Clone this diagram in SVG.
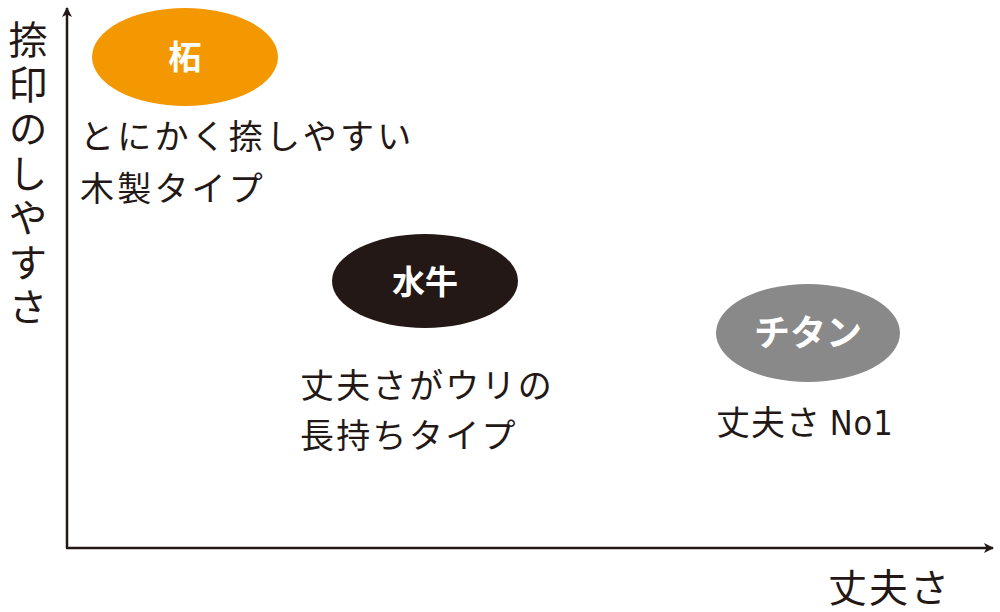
<svg xmlns="http://www.w3.org/2000/svg" width="1000" height="612" viewBox="0 0 1000 612">
<style>
.t{font-family:"Noto Sans CJK JP","Noto Sans",sans-serif;fill:#231815;}
.lbl{font-family:"Noto Sans CJK JP","Noto Sans",sans-serif;fill:#fff;font-weight:bold;text-anchor:middle;}
.ax{stroke:#231815;stroke-width:2.5;fill:none;}
</style>
<defs>
<marker id="arr" viewBox="0 0 10 10" refX="9" refY="5" markerWidth="10" markerHeight="10" markerUnits="userSpaceOnUse" orient="auto">
<path d="M0,0 L10,5 L0,10 L2.5,5 Z" fill="#231815"/>
</marker>
</defs>
<rect width="1000" height="612" fill="#fff"/>
<g id="connectors">
<path class="ax" d="M67,548 L67,8" marker-end="url(#arr)"/>
<path class="ax" d="M66,548 L993,548" marker-end="url(#arr)"/>
</g>
<g id="axis-labels">
<text class="t" x="28" y="20" font-size="39" style="writing-mode:vertical-rl;letter-spacing:5.5px">捺印のしやすさ</text>
<text class="t" x="828" y="602" font-size="39" letter-spacing="2">丈夫さ</text>
</g>
<g id="node-tsuge">
<ellipse cx="185" cy="57" rx="93" ry="49" fill="#F39800"/>
<text class="lbl" x="185" y="69" font-size="33">柘</text>
<text class="t" x="80" y="149" font-size="34" letter-spacing="3.2">とにかく捺しやすい</text>
<text class="t" x="80" y="201" font-size="34" letter-spacing="3.2">木製タイプ</text>
</g>
<g id="node-suigyu">
<ellipse cx="425" cy="281" rx="93" ry="47" fill="#231815"/>
<text class="lbl" x="425" y="294" font-size="33">水牛</text>
<text class="t" x="300" y="398" font-size="34" letter-spacing="2.3">丈夫さがウリの</text>
<text class="t" x="300" y="448" font-size="34" letter-spacing="2.3">長持ちタイプ</text>
</g>
<g id="node-titan">
<ellipse cx="808" cy="333" rx="92" ry="49" fill="#898989"/>
<text class="lbl" x="808" y="346" font-size="36">チタン</text>
<text class="t" x="716" y="435" font-size="34" letter-spacing="1">丈夫さ <tspan font-family="'Liberation Sans Narrow','DejaVu Sans Condensed',sans-serif" font-stretch="condensed">No1</tspan></text>
</g>
</svg>
